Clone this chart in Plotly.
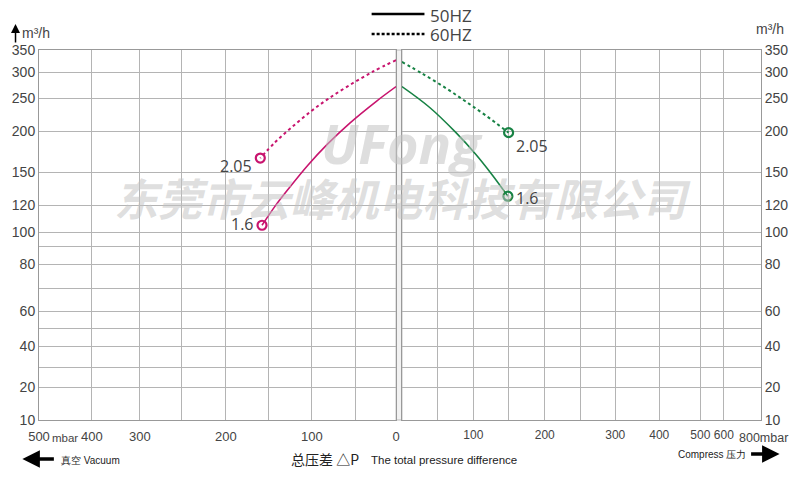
import numpy as np
import plotly.graph_objects as go

# ---------------- data ----------------
Y_TICK_VALUES = [10, 20, 30, 40, 50, 60, 70, 80, 90, 100, 120, 150, 200, 250, 300, 350]
Y_TICK_LABELS = ["10", "20", "", "40", "", "60", "", "80", "", "100", "120", "150", "200", "250", "300", "350"]
VAC_TICK_VALUES = [0, 50, 100, 150, 200, 250, 300, 400, 500]
VAC_TICK_LABELS = ["0", "", "100", "", "200", "", "300", "400", "500"]
PRS_TICK_VALUES = [0, 50, 100, 150, 200, 250, 300, 400, 500, 600, 800]
PRS_TICK_LABELS = ["", "", "100", "", "200", "", "300", "400", "500", "600", ""]

vac_50_p = [0, 24, 56, 82, 105, 128, 143, 158]
vac_50_q = [272, 245, 212, 184, 158, 134, 119, 105]
vac_60_p = [0, 29, 59, 82, 101, 124, 143, 160]
vac_60_q = [327, 300, 272, 248, 230, 205, 186, 167]
prs_50_p = [0, 39, 76, 103, 126, 149]
prs_50_q = [272, 236, 198, 172, 148, 128]
prs_60_p = [0, 30, 62, 89, 117, 150]
prs_60_q = [323, 296, 269, 245, 224, 198]
end_labels_50 = "1.6"
end_labels_60 = "2.05"

# ---------------- scale geometry (non-linear chart scales) ----------------
Y_SCALE = [0, 33, 53, 74, 92, 109, 132, 156, 174, 188, 215, 248, 289, 322, 348, 370]
VAC_SCALE = [0, 42, 86, 130, 174, 219, 262, 311, 365]
PRS_SCALE = [0, 36, 73, 109, 146, 182, 218, 263, 305, 329, 367]

def ys(v):
    return list(np.interp(v, Y_TICK_VALUES, Y_SCALE))

def vs(v):
    return list(np.interp(v, VAC_TICK_VALUES, VAC_SCALE))

def ps(v):
    return list(np.interp(v, PRS_TICK_VALUES, PRS_SCALE))

MAG = "#c8146e"
GRN = "#178244"
GRID = "#b4b4b4"
TXT = "#444444"
SANS = "Liberation Sans, Arial, sans-serif"
OPEN = "Open Sans, sans-serif"
CJK = "Noto Sans CJK SC, sans-serif"

fig = go.Figure()

# vacuum side
fig.add_trace(go.Scatter(x=vs(vac_60_p), y=ys(vac_60_q), mode="lines", line=dict(color=MAG, width=2, dash="dot", shape="spline"), xaxis="x", yaxis="y"))
fig.add_trace(go.Scatter(x=vs(vac_50_p), y=ys(vac_50_q), mode="lines", line=dict(color=MAG, width=1.6, shape="spline"), xaxis="x", yaxis="y"))
fig.add_trace(go.Scatter(x=vs([vac_50_p[-1], vac_60_p[-1]]), y=ys([vac_50_q[-1], vac_60_q[-1]]), mode="markers",
                         marker=dict(symbol="circle-open", size=9, color=MAG, line=dict(width=2.2, color=MAG)), xaxis="x", yaxis="y"))
# pressure side
fig.add_trace(go.Scatter(x=ps(prs_60_p), y=ys(prs_60_q), mode="lines", line=dict(color=GRN, width=2, dash="dot", shape="spline"), xaxis="x2", yaxis="y2"))
fig.add_trace(go.Scatter(x=ps(prs_50_p), y=ys(prs_50_q), mode="lines", line=dict(color=GRN, width=1.6, shape="spline"), xaxis="x2", yaxis="y2"))
fig.add_trace(go.Scatter(x=ps([prs_50_p[-1], prs_60_p[-1]]), y=ys([prs_50_q[-1], prs_60_q[-1]]), mode="markers",
                         marker=dict(symbol="circle-open", size=9, color=GRN, line=dict(width=2.2, color=GRN)), xaxis="x2", yaxis="y2"))

L, R, T, B = 32, 30, 50, 58
PW = 800 - L - R
PH = 478 - T - B

def px(x):
    return (x - L) / PW

def py(y):
    return (478 - B - y) / PH

axis_common = dict(showgrid=True, gridcolor=GRID, gridwidth=1, showline=True, mirror=True, linecolor="#999999",
                   linewidth=1, zeroline=False, ticks="", tickangle=0, fixedrange=True)
xfont = dict(family=SANS, size=13, color=TXT)
x2font = dict(family=SANS, size=12, color=TXT)
yfont = dict(family=SANS, size=14, color=TXT)

fig.update_layout(
    width=800, height=478, margin=dict(l=L, r=R, t=T, b=B),
    paper_bgcolor="white", plot_bgcolor="white", showlegend=False,
    xaxis=dict(domain=[0, 365 / PW], range=[365, 0], tickmode="array", tickvals=vs(VAC_TICK_VALUES), ticktext=VAC_TICK_LABELS,
               anchor="y", ticklabelstandoff=4, tickfont=xfont, **axis_common),
    xaxis2=dict(domain=[371 / PW, 1], range=[0, 367], tickmode="array", tickvals=ps(PRS_TICK_VALUES), ticktext=PRS_TICK_LABELS,
                anchor="y2", ticklabelstandoff=4, tickfont=x2font, **axis_common),
    yaxis=dict(range=[0, 370], tickmode="array", tickvals=ys(Y_TICK_VALUES), ticktext=Y_TICK_LABELS, anchor="x", side="left",
               tickfont=yfont, **axis_common),
    yaxis2=dict(range=[0, 370], tickmode="array", tickvals=ys(Y_TICK_VALUES), ticktext=Y_TICK_LABELS, anchor="x2", side="right",
                tickfont=yfont, **axis_common),
)

shapes = [
    dict(type="rect", xref="paper", yref="paper", x0=px(397), x1=px(403), y0=0, y1=1, fillcolor="#f2f2f2", line=dict(color="#bbbbbb", width=1), layer="below"),
    dict(type="line", xref="paper", yref="paper", x0=px(372), x1=px(426), y0=py(14), y1=py(14), line=dict(color="black", width=2.5)),
    dict(type="line", xref="paper", yref="paper", x0=px(372), x1=px(426), y0=py(34), y1=py(34), line=dict(color="black", width=2.5, dash="3px,2px")),
]
fig.update_layout(shapes=shapes)

ann = []
def A(x, y, text, size=16, color=TXT, family=SANS, xanchor="center"):
    ann.append(dict(xref="paper", yref="paper", x=px(x), y=py(y), text=text, showarrow=False, xanchor=xanchor, yanchor="middle",
                    font=dict(size=size, color=color, family=family)))

# watermark
ann.append(dict(xref="paper", yref="paper", x=px(403), y=py(104), text="<b><i>UFong</i></b>", showarrow=False,
                font=dict(size=54, color="rgba(195,195,195,0.55)", family=OPEN)))
ann.append(dict(xref="paper", yref="paper", x=px(404), y=py(163), text="<b><i>东莞市云峰机电科技有限公司</i></b>", showarrow=False,
                font=dict(size=44, color="rgba(195,195,195,0.55)", family=CJK)))

# legend text
A(430, 15, "50HZ", size=17, family=OPEN, xanchor="left")
A(430, 35, "60HZ", size=17, family=OPEN, xanchor="left")

# units
A(13, 33, "m³/h", size=14, xanchor="left")
A(763, 29, "m³/h", size=14, xanchor="left")
A(43, 438, "mbar", size=11.5, xanchor="left")
A(800, 438, "800mbar", size=12.5, xanchor="right")

# bottom titles
A(288, 459, "总压差 △P", size=14, family=CJK, xanchor="left", color="#222222")
A(369, 460, "The total pressure difference", size=11.5, xanchor="left", color="#222222")
A(52, 460, "真空 Vacuum", size=10, xanchor="left", color="#222222")
A(757, 454, "Compress 压力", size=10, xanchor="right", color="#222222")

# point labels (data positioned)
for xv, yv, t, xa, xs, ysft in [
    (vac_60_p[-1], vac_60_q[-1], end_labels_60, "right", -6, -8),
    (vac_50_p[-1], vac_50_q[-1], end_labels_50, "right", -6, 1),
]:
    ann.append(dict(xref="x", yref="y", x=vs([xv])[0], y=ys([yv])[0], text=t, showarrow=False, xanchor=xa, xshift=xs, yshift=ysft,
                    font=dict(size=16, color=TXT, family=OPEN)))
for xv, yv, t, xa, xs, ysft in [
    (prs_60_p[-1], prs_60_q[-1], end_labels_60, "left", 5, -13),
    (prs_50_p[-1], prs_50_q[-1], end_labels_50, "left", 6, -2),
]:
    ann.append(dict(xref="x2", yref="y2", x=ps([xv])[0], y=ys([yv])[0], text=t, showarrow=False, xanchor=xa, xshift=xs, yshift=ysft,
                    font=dict(size=16, color=TXT, family=OPEN)))

# arrows
ann.append(dict(xref="paper", yref="paper", x=px(15), y=py(459), ax=33, ay=0, axref="pixel", ayref="pixel", text="",
                showarrow=True, arrowhead=2, arrowsize=1, arrowwidth=3.5, arrowcolor="black"))
ann.append(dict(xref="paper", yref="paper", x=px(789), y=py(454), ax=-30, ay=0, axref="pixel", ayref="pixel", text="",
                showarrow=True, arrowhead=2, arrowsize=1, arrowwidth=3.5, arrowcolor="black"))
ann.append(dict(xref="paper", yref="paper", x=px(8), y=py(24), ax=0, ay=20, axref="pixel", ayref="pixel", text="",
                showarrow=True, arrowhead=2, arrowsize=1.2, arrowwidth=1.5, arrowcolor="black"))

fig.update_layout(annotations=ann)
fig.write_html("out.html", config={"displayModeBar": False}, post_script="document.body.style.margin='0';")
